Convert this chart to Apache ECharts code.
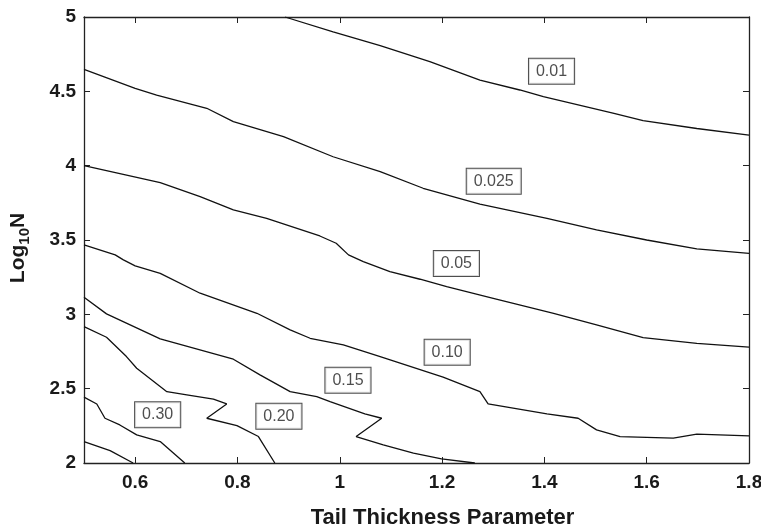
<!DOCTYPE html>
<html>
<head>
<meta charset="utf-8">
<script src="https://cdn.jsdelivr.net/npm/echarts@6/dist/echarts.min.js"></script>
<style>
  html, body { margin: 0; padding: 0; background: #fff; }
  #chart { width: 761px; height: 527px; }
</style>
</head>
<body>
<div id="chart"></div>
<script>
// Contour lines of the level surface over (tail thickness, log10 N)
const c001 = [[0.893,5.0],[0.987,4.90],[1.079,4.807],[1.176,4.70],[1.274,4.576],[1.352,4.509],[1.398,4.464],[1.534,4.354],[1.593,4.303],[1.698,4.25],[1.8,4.206]];
const c0025 = [[0.5,4.648],[0.6,4.52],[0.642,4.475],[0.74,4.386],[0.792,4.296],[0.89,4.195],[0.987,4.06],[1.079,3.96],[1.163,3.848],[1.274,3.742],[1.405,3.646],[1.502,3.568],[1.60,3.50],[1.698,3.44],[1.8,3.41]];
const c005 = [[0.5,4.0],[0.649,3.886],[0.727,3.792],[0.792,3.702],[0.857,3.646],[0.961,3.527],[0.993,3.478],[1.017,3.40],[1.046,3.355],[1.098,3.287],[1.157,3.236],[1.209,3.186],[1.30,3.108],[1.418,3.007],[1.502,2.929],[1.593,2.843],[1.698,2.805],[1.8,2.779]];
const c010 = [[0.5,3.467],[0.561,3.40],[0.577,3.366],[0.6,3.326],[0.649,3.276],[0.727,3.142],[0.838,3.007],[0.903,2.895],[0.942,2.839],[1.007,2.794],[1.079,2.716],[1.202,2.577],[1.274,2.48],[1.29,2.397],[1.405,2.33],[1.466,2.301],[1.502,2.223],[1.548,2.178],[1.652,2.167],[1.698,2.194],[1.8,2.182]];
const c015 = [[0.5,3.115],[0.544,3.003],[0.649,2.835],[0.792,2.698],[0.844,2.593],[0.903,2.48],[0.955,2.447],[0.981,2.413],[1.049,2.33],[1.082,2.301],[1.032,2.178],[1.085,2.122],[1.144,2.066],[1.199,2.028],[1.264,2.0]];
const c020 = [[0.5,2.917],[0.544,2.846],[0.583,2.716],[0.603,2.637],[0.662,2.48],[0.701,2.458],[0.753,2.429],[0.779,2.397],[0.74,2.301],[0.799,2.251],[0.841,2.178],[0.873,2.0]];
const c030 = [[0.5,2.443],[0.525,2.397],[0.541,2.301],[0.570,2.256],[0.603,2.189],[0.649,2.144],[0.697,2.0]];
const c040 = [[0.5,2.144],[0.551,2.083],[0.596,2.0]];

// Level labels: [x, y, text]
const levelLabels = [
  [1.414, 4.635, '0.01'],
  [1.301, 3.896, '0.025'],
  [1.228, 3.342, '0.05'],
  [1.210, 2.745, '0.10'],
  [1.016, 2.556, '0.15'],
  [0.881, 2.315, '0.20'],
  [0.644, 2.325, '0.30']
];

const xTicks = [0.6, 0.8, 1.0, 1.2, 1.4, 1.6, 1.8];
const xTicksTop = [0.6, 0.8, 1.0, 1.2, 1.4, 1.6];

const axisColor = '#222';
const textColor = '#1a1a1a';
const font = 'Liberation Sans, Arial, Helvetica, sans-serif';

const chart = echarts.init(document.getElementById('chart'), null, { renderer: 'canvas' });

function contour(data) {
  return {
    type: 'line',
    data: data,
    symbol: 'none',
    animation: false,
    lineStyle: { color: '#111', width: 1.3 },
    silent: true,
    z: 3
  };
}

chart.setOption({
  animation: false,
  backgroundColor: '#fff',
  grid: { left: 84, right: 12, top: 17, bottom: 64, containLabel: false, outerBoundsMode: 'none' },
  xAxis: [{
    type: 'value', min: 0.5, max: 1.8,
    name: 'Tail Thickness Parameter',
    nameLocation: 'middle', nameGap: 44,
    nameTextStyle: { fontFamily: font, fontWeight: 'bold', fontSize: 22, color: textColor, padding: [0, 0, 0, 52] },
    axisLine: { show: true, lineStyle: { color: axisColor, width: 1.3 } },
    axisTick: { show: true, inside: true, length: 6, customValues: xTicks, lineStyle: { color: axisColor } },
    axisLabel: { customValues: xTicks, fontFamily: font, fontWeight: 'bold', fontSize: 19, color: textColor, margin: 10,
      formatter: v => String(Math.round(v * 10) / 10) },
    splitLine: { show: false }
  }, {
    type: 'value', min: 0.5, max: 1.8, position: 'top',
    axisLine: { show: true, lineStyle: { color: axisColor, width: 1.3 } },
    axisTick: { show: true, inside: true, length: 6, customValues: xTicksTop, lineStyle: { color: axisColor } },
    axisLabel: { show: false },
    splitLine: { show: false }
  }],
  yAxis: [{
    type: 'value', min: 2, max: 5, interval: 0.5,
    name: 'Log{sub|10}N',
    nameLocation: 'middle', nameGap: 52, nameRotate: 90,
    nameTextStyle: {
      fontFamily: font, fontWeight: 'bold', fontSize: 21, color: textColor,
      padding: [0, 16, 0, 0],
      rich: { sub: { fontFamily: font, fontWeight: 'bold', fontSize: 15, color: textColor, padding: [12, 0, 0, 0] } }
    },
    axisLine: { show: true, lineStyle: { color: axisColor, width: 1.3 } },
    axisTick: { show: true, inside: true, length: 6, lineStyle: { color: axisColor } },
    axisLabel: { fontFamily: font, fontWeight: 'bold', fontSize: 19, color: textColor, margin: 8 },
    splitLine: { show: false }
  }, {
    type: 'value', min: 2, max: 5, interval: 0.5, position: 'right',
    axisLine: { show: true, lineStyle: { color: axisColor, width: 1.3 } },
    axisTick: { show: true, inside: true, length: 6, lineStyle: { color: axisColor } },
    axisLabel: { show: false },
    splitLine: { show: false }
  }],
  series: [
    contour(c001), contour(c0025), contour(c005), contour(c010),
    contour(c015), contour(c020), contour(c030), contour(c040),
    {
      type: 'scatter',
      data: levelLabels,
      symbolSize: 1,
      itemStyle: { color: 'rgba(0,0,0,0)' },
      silent: true,
      z: 5,
      label: {
        show: true, position: 'inside',
        formatter: p => p.data[2],
        fontFamily: font, fontSize: 16, color: '#222',
        backgroundColor: '#fff', borderColor: '#222', borderWidth: 1,
        padding: [5, 7, 4, 7]
      }
    }
  ]
});
</script>
</body>
</html>
